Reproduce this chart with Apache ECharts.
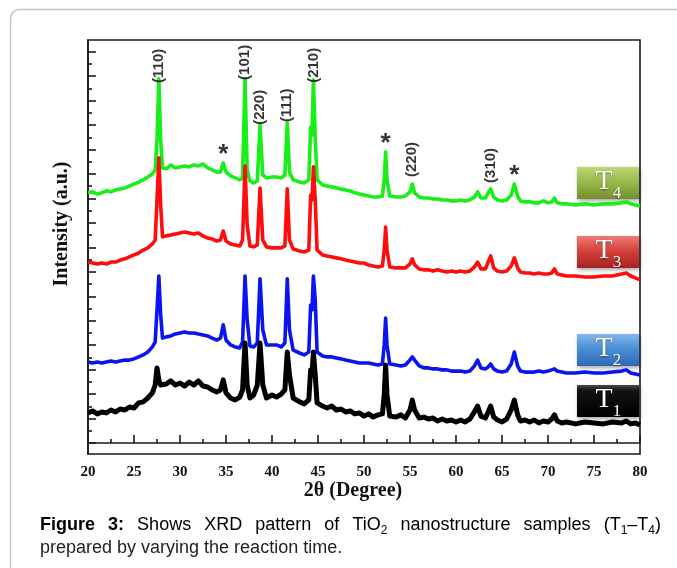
<!DOCTYPE html>
<html>
<head>
<meta charset="utf-8">
<title>XRD pattern of TiO2 samples T1–T4</title>
<script src="https://cdn.jsdelivr.net/npm/echarts@6/dist/echarts.min.js"></script>
<style>
  html, body { margin: 0; padding: 0; background: #ffffff; }
  #chart { width: 677px; height: 568px; }
</style>
</head>
<body>
<div id="chart"></div>
<script>
// Diffraction traces: [2θ (degree), intensity (a.u.)], curves stacked with vertical offsets
const T1 = [[20,123],[20.5,131],[21,119],[21.5,127],[22,123],[22.5,135],[23,127],[23.5,139],[24,135],[24.5,147],[25,143],[25.5,164],[26,168],[26.5,184],[27,205],[27.3,237],[27.5,307],[27.7,258],[27.9,237],[28.1,245],[28.5,241],[29,254],[29.5,237],[30,245],[30.5,233],[31,249],[31.5,237],[32,254],[32.5,233],[33,229],[33.5,217],[34,209],[34.4,217],[34.7,258],[35,205],[35.5,184],[36,176],[36.5,188],[36.8,217],[37.07,409],[37.3,237],[37.6,184],[38,196],[38.4,237],[38.7,409],[39,237],[39.4,184],[40,196],[40.5,188],[41,200],[41.4,217],[41.66,372],[41.9,278],[42.3,184],[43,168],[43.5,160],[44,176],[44.2,299],[44.35,278],[44.5,372],[44.7,278],[44.9,164],[45.5,151],[46,143],[46.5,151],[47,135],[47.5,139],[48,127],[48.5,131],[49,119],[49.5,123],[50,110],[50.5,119],[51,106],[51.5,115],[52,119],[52.2,196],[52.35,319],[52.5,196],[52.8,110],[53.5,106],[54,115],[54.5,102],[55,135],[55.25,176],[55.5,135],[56,102],[56.5,106],[57,98],[57.5,102],[58,90],[58.5,98],[59,90],[59.5,94],[60,86],[60.5,94],[61,86],[61.5,98],[62,127],[62.35,151],[62.7,110],[63.2,102],[63.5,127],[63.77,151],[64.1,106],[64.5,94],[65,86],[65.5,98],[66,135],[66.34,176],[66.7,115],[67,90],[67.5,94],[68,86],[68.5,94],[69,82],[69.5,90],[70,86],[70.4,98],[70.7,115],[71,90],[71.5,82],[72,86],[73,78],[74,86],[75,82],[76,78],[77,86],[78,82],[78.5,90],[79,78],[79.5,82],[80,74]];

const T2 = [[20,331],[20.5,327],[21,331],[21.5,327],[22,331],[22.5,335],[23,331],[23.5,335],[24,339],[24.5,339],[25,344],[25.5,352],[26,360],[26.5,372],[27,393],[27.3,413],[27.5,544],[27.7,683],[27.9,524],[28.1,429],[28.5,434],[29,438],[29.5,446],[30,450],[30.5,454],[31,450],[31.5,450],[32,446],[32.5,442],[33,438],[33.5,429],[34,421],[34.4,429],[34.7,483],[35,421],[35.5,401],[36,393],[36.5,389],[36.8,413],[37.07,683],[37.3,503],[37.6,397],[38,393],[38.4,409],[38.7,671],[39,462],[39.4,401],[40,401],[40.5,401],[41,393],[41.4,409],[41.66,671],[41.9,462],[42.3,380],[43,368],[43.5,360],[44,372],[44.2,564],[44.35,544],[44.5,683],[44.7,585],[44.9,372],[45.5,356],[46,352],[46.5,352],[47,348],[47.5,344],[48,339],[48.5,335],[49,331],[49.5,327],[50,327],[50.5,327],[51,323],[51.5,319],[52,323],[52.2,401],[52.35,511],[52.5,401],[52.8,323],[53.5,319],[54,315],[54.5,319],[55,339],[55.25,352],[55.5,339],[56,315],[56.5,307],[57,307],[57.5,303],[58,303],[58.5,299],[59,299],[59.5,294],[60,294],[60.5,294],[61,290],[61.5,294],[62,315],[62.35,339],[62.7,307],[63.2,303],[63.5,311],[63.77,323],[64.1,303],[64.5,294],[65,290],[65.5,294],[66,323],[66.34,372],[66.7,315],[67,294],[67.5,290],[68,290],[68.5,290],[69,294],[69.5,290],[70,294],[70.4,299],[70.7,303],[71,294],[71.5,290],[72,286],[73,286],[74,290],[75,286],[76,286],[77,290],[78,294],[78.5,299],[79,286],[79.5,282],[80,278]];

const T3 = [[20,740],[20.5,736],[21,732],[21.5,736],[22,732],[22.5,740],[23,740],[23.5,748],[24,753],[24.5,761],[25,769],[25.5,777],[26,789],[26.5,798],[27,814],[27.3,830],[27.5,994],[27.7,1166],[27.9,973],[28.1,843],[28.5,847],[29,851],[29.5,855],[30,859],[30.5,863],[31,859],[31.5,855],[32,859],[32.5,847],[33,838],[33.5,834],[34,826],[34.4,830],[34.7,867],[35,826],[35.5,814],[36,810],[36.5,806],[36.8,830],[37.07,1133],[37.3,892],[37.6,806],[38,802],[38.4,810],[38.7,1043],[39,830],[39.4,802],[40,798],[40.5,798],[41,798],[41.4,806],[41.66,1039],[41.9,830],[42.3,793],[43,785],[43.5,781],[44,789],[44.2,1014],[44.35,994],[44.5,1129],[44.7,994],[44.9,789],[45.5,769],[46,765],[46.5,761],[47,757],[47.5,753],[48,748],[48.5,744],[49,740],[49.5,736],[50,736],[50.5,728],[51,724],[51.5,720],[52,724],[52.2,789],[52.35,883],[52.5,789],[52.8,720],[53.5,716],[54,716],[54.5,716],[55,732],[55.25,753],[55.5,728],[56,712],[56.5,708],[57,708],[57.5,703],[58,708],[58.5,703],[59,699],[59.5,703],[60,699],[60.5,703],[61,699],[61.5,703],[62,720],[62.35,740],[62.7,712],[63.2,712],[63.5,740],[63.77,765],[64.1,716],[64.5,703],[65,699],[65.5,703],[66,724],[66.34,757],[66.7,716],[67,699],[67.5,695],[68,695],[68.5,691],[69,695],[69.5,691],[70,691],[70.4,695],[70.7,712],[71,691],[71.5,687],[72,683],[73,683],[74,679],[75,679],[76,683],[77,683],[78,691],[78.5,695],[79,683],[79.5,675],[80,667]];

const T4 = [[20,1023],[20.5,1027],[21,1018],[21.5,1023],[22,1031],[22.5,1027],[23,1035],[23.5,1039],[24,1043],[24.5,1051],[25,1059],[25.5,1067],[26,1076],[26.5,1088],[27,1100],[27.3,1117],[27.5,1239],[27.7,1489],[27.9,1239],[28.1,1125],[28.5,1121],[29,1137],[29.5,1125],[30,1129],[30.5,1133],[31,1129],[31.5,1137],[32,1133],[32.5,1141],[33,1125],[33.5,1117],[34,1108],[34.4,1108],[34.7,1145],[35,1108],[35.5,1092],[36,1084],[36.5,1076],[36.8,1084],[37.07,1489],[37.3,1117],[37.6,1072],[38,1063],[38.4,1072],[38.7,1301],[39,1096],[39.4,1084],[40,1088],[40.5,1088],[41,1084],[41.4,1096],[41.66,1309],[41.9,1108],[42.3,1076],[43,1067],[43.5,1063],[44,1076],[44.2,1292],[44.35,1260],[44.5,1485],[44.7,1239],[44.9,1076],[45.5,1055],[46,1051],[46.5,1047],[47,1043],[47.5,1039],[48,1035],[48.5,1031],[49,1023],[49.5,1018],[50,1014],[50.5,1010],[51,1006],[51.5,1006],[52,1010],[52.2,1076],[52.35,1190],[52.5,1076],[52.8,1010],[53.5,1006],[54,1006],[54.5,1010],[55,1027],[55.25,1059],[55.5,1023],[56,1006],[56.5,1002],[57,1002],[57.5,998],[58,998],[58.5,994],[59,994],[59.5,990],[60,990],[60.5,994],[61,990],[61.5,994],[62,1006],[62.35,1027],[62.7,1002],[63.2,1002],[63.5,1023],[63.77,1039],[64.1,1006],[64.5,994],[65,990],[65.5,994],[66,1014],[66.34,1059],[66.7,1010],[67,990],[67.5,986],[68,986],[68.5,982],[69,982],[69.5,990],[70,982],[70.4,986],[70.7,1002],[71,982],[71.5,978],[72,978],[73,973],[74,978],[75,973],[76,978],[77,978],[78,982],[78.5,986],[79,978],[79.5,973],[80,969]];

// Sample names (letter + subscript digit) and line colours
const SAMPLE_IDS = ['1', '2', '3', '4'];
const SAMPLE_COLORS = ['#000000', '#0a14ee', '#ff0d0d', '#18ee18'];

// Reflection labels on the top (T4) trace
const HKL_ANGLES = [27.7, 37.07, 38.7, 41.66, 44.5, 55.25, 63.77];
const HKL_LABELS = ['(110)', '(101)', '(220)', '(111)', '(210)', '(220)', '(310)'];
const STAR_ANGLES = [34.7, 52.35, 66.34];

// Axis ticks
const X_MIN = 20, X_MAX = 80, X_STEP = 5;
const Y_MIN = -45, Y_MAX = 1648;
const Y_MAJOR = [0,100,200,300,400,500,600,700,800,900,1000,1100,1200,1300,1400,1500,1600];
const Y_MINOR = [50,150,250,350,450,550,650,750,850,950,1050,1150,1250,1350,1450,1550];

const X_TITLE = '2θ (Degree)';
const Y_TITLE = 'Intensity (a.u.)';

// Caption text: words made of [text, style] pieces (b = bold, n = normal, s = subscript)
const CAPTION_LINE1 = [
  [['Figure', 'b']], [['3:', 'b']], [['Shows', 'n']], [['XRD', 'n']], [['pattern', 'n']], [['of', 'n']],
  [['TiO', 'n'], ['2', 's']], [['nanostructure', 'n']], [['samples', 'n']],
  [['(T', 'n'], ['1', 's'], ['–T', 'n'], ['4', 's'], [')', 'n']]
];
const CAPTION_LINE2 = 'prepared by varying the reaction time.';

// ---------------------------------------------------------------------------
const SERIF = '"Liberation Serif", "Times New Roman", serif';
const SANS = '"Liberation Sans", Arial, sans-serif';
const INK = '#1a1a1a';

const traces = [T1, T2, T3, T4];

function peakValue(trace, angle) {
  const p = trace.find(d => d[0] === angle);
  return p ? p[1] : 0;
}

// distance between each reflection label and its peak tip (px)
const HKL_GAP = [-4, -1, 0, 1, -3, 7, 6];

const lineSeries = [3, 2, 1, 0].map(i => ({
  name: 'T' + SAMPLE_IDS[i],
  type: 'line',
  data: traces[i],
  showSymbol: false,
  symbol: 'none',
  smooth: false,
  silent: true,
  lineStyle: { color: SAMPLE_COLORS[i], width: i === 0 ? 5 : 3.6, join: 'round' },
  z: 2 + (3 - i)
}));

const hklSeries = {
  type: 'scatter',
  symbolSize: 0,
  silent: true,
  z: 10,
  data: HKL_ANGLES.map((a, i) => ({
    value: [a, peakValue(T4, a)],
    name: HKL_LABELS[i],
    label: { distance: HKL_GAP[i] }
  })),
  label: {
    show: true,
    position: 'top',
    rotate: 90,
    align: 'left',
    verticalAlign: 'middle',
    formatter: p => p.name,
    fontFamily: SANS,
    fontWeight: 'bold',
    fontSize: 15,
    color: '#000'
  }
};

const starSeries = {
  type: 'scatter',
  symbolSize: 0,
  silent: true,
  z: 10,
  data: STAR_ANGLES.map(a => [a, peakValue(T4, a)]),
  label: {
    show: true,
    position: 'top',
    distance: -5,
    formatter: '*',
    fontFamily: SANS,
    fontWeight: 'bold',
    fontSize: 26,
    color: '#000'
  }
};

// Sample badges (gradient boxes with T and a subscript digit)
const BADGE_FILLS = [
  [[0, '#4a4a4a'], [0.18, '#121212'], [1, '#000000']],
  [[0, '#86b8ec'], [0.45, '#4b8fd9'], [1, '#2c69b2']],
  [[0, '#ec7b77'], [0.45, '#d6423d'], [1, '#a5231f']],
  [[0, '#bcd676'], [0.45, '#9bbb4c'], [1, '#71902c']]
];
const BADGE_TOP = [385, 334, 236, 167];

function badge(i) {
  const stops = BADGE_FILLS[i].map(s => ({ offset: s[0], color: s[1] }));
  return {
    type: 'group',
    x: 577,
    y: BADGE_TOP[i],
    children: [
      {
        type: 'rect',
        shape: { x: 0, y: 0, width: 62, height: 32 },
        style: {
          fill: { type: 'linear', x: 0, y: 0, x2: 0, y2: 1, colorStops: stops },
          shadowBlur: 4, shadowOffsetX: 1, shadowOffsetY: 2, shadowColor: 'rgba(0,0,0,0.35)'
        }
      },
      {
        type: 'text', x: 27, y: 15,
        style: { text: 'T', fill: '#ffffff', fontFamily: SERIF, fontSize: 28, align: 'center', verticalAlign: 'middle',
                 textShadowBlur: 2, textShadowColor: 'rgba(0,0,0,0.45)', textShadowOffsetY: 1 }
      },
      {
        type: 'text', x: 40, y: 27,
        style: { text: SAMPLE_IDS[i], fill: '#ffffff', fontFamily: SERIF, fontSize: 17, align: 'center', verticalAlign: 'middle',
                 textShadowBlur: 2, textShadowColor: 'rgba(0,0,0,0.45)', textShadowOffsetY: 1 }
      }
    ]
  };
}

// Caption: first line justified between left and right margins
const CAP_SIZE = 18;
const CAP_SUB = 12;
const measureCtx = document.createElement('canvas').getContext('2d');
function pieceWidth(t, s) {
  const size = s === 's' ? CAP_SUB : CAP_SIZE;
  const weight = s === 'b' ? 'bold ' : '';
  measureCtx.font = weight + size + 'px "Liberation Sans", Arial, sans-serif';
  return measureCtx.measureText(t).width;
}
const capRich = {
  n: { fontFamily: SANS, fontSize: CAP_SIZE, color: '#222', lineHeight: 24 },
  b: { fontFamily: SANS, fontSize: CAP_SIZE, fontWeight: 'bold', color: '#222', lineHeight: 24 },
  s: { fontFamily: SANS, fontSize: CAP_SUB, color: '#222', lineHeight: 24, verticalAlign: 'bottom' }
};
function captionLine1(left, right, y) {
  const widths = CAPTION_LINE1.map(w => w.reduce((acc, [t, s]) => acc + pieceWidth(t, s), 0));
  const total = widths.reduce((a, b) => a + b, 0);
  const gap = (right - left - total) / (CAPTION_LINE1.length - 1);
  let x = left;
  return CAPTION_LINE1.map((w, i) => {
    const el = {
      type: 'text', x: x, y: y,
      style: {
        text: w.map(([t, s]) => '{' + s + '|' + t + '}').join(''),
        rich: capRich, align: 'left', verticalAlign: 'middle'
      }
    };
    x += widths[i] + gap;
    return el;
  });
}

const graphics = [
  {
    type: 'rect', z: -10, silent: true,
    shape: { x: 10.5, y: 9.5, width: 720, height: 620, r: 9 },
    style: { fill: 'none', stroke: '#c6c6c6', lineWidth: 1.5 }
  },
  {
    type: 'text', x: 353, y: 491,
    style: { text: X_TITLE, fontFamily: SERIF, fontWeight: 'bold', fontSize: 20, fill: '#111', align: 'center', verticalAlign: 'middle' }
  },
  {
    type: 'text', x: 62, y: 224, rotation: Math.PI / 2,
    style: { text: Y_TITLE, fontFamily: SERIF, fontWeight: 'bold', fontSize: 20, fill: '#111', align: 'center', verticalAlign: 'middle' }
  },
  badge(3), badge(2), badge(1), badge(0),
  ...captionLine1(40, 661, 525),
  {
    type: 'text', x: 40, y: 548,
    style: { text: CAPTION_LINE2, fontFamily: SANS, fontSize: CAP_SIZE, fill: '#222', align: 'left', verticalAlign: 'middle' }
  }
];

const axisLineStyle = { color: INK, width: 1.6 };

const option = {
  animation: false,
  backgroundColor: '#ffffff',
  grid: {
    left: 88, right: 37, top: 40, bottom: 114,
    show: true, borderColor: INK, borderWidth: 1.6,
    containLabel: false, outerBoundsMode: 'none'
  },
  xAxis: {
    type: 'value', min: X_MIN, max: X_MAX, interval: X_STEP,
    axisLine: { show: true, lineStyle: axisLineStyle },
    axisTick: { show: true, inside: true, length: 8, lineStyle: axisLineStyle },
    minorTick: { show: true, splitNumber: 2, length: 4, lineStyle: axisLineStyle },
    splitLine: { show: false },
    minorSplitLine: { show: false },
    axisLabel: { margin: 11, color: '#111', fontFamily: SERIF, fontWeight: 'bold', fontSize: 15 }
  },
  yAxis: [
    {
      type: 'value', min: Y_MIN, max: Y_MAX, position: 'left',
      axisLine: { show: true, lineStyle: axisLineStyle },
      axisTick: { show: true, inside: true, length: 8, lineStyle: axisLineStyle, customValues: Y_MAJOR },
      axisLabel: { show: false },
      splitLine: { show: false }
    },
    {
      type: 'value', min: Y_MIN, max: Y_MAX, position: 'left',
      axisLine: { show: false },
      axisTick: { show: true, inside: true, length: 4, lineStyle: axisLineStyle, customValues: Y_MINOR },
      axisLabel: { show: false },
      splitLine: { show: false }
    }
  ],
  series: [...lineSeries, hklSeries, starSeries],
  graphic: graphics
};

const chart = echarts.init(document.getElementById('chart'), null, { renderer: 'canvas' });
chart.setOption(option);
</script>
</body>
</html>
